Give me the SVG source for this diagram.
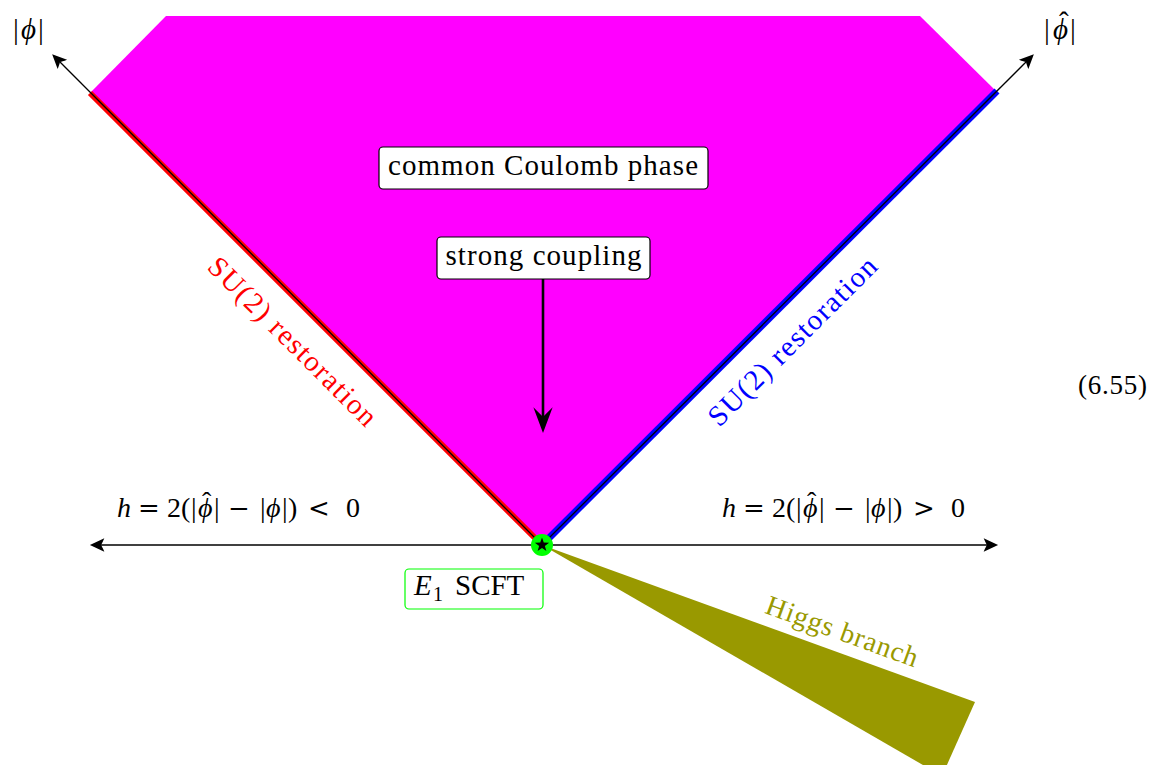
<svg xmlns="http://www.w3.org/2000/svg" width="1150" height="765" viewBox="0 0 1150 765">
<style>
  text { font-family: "Liberation Serif", "DejaVu Serif", serif; fill: #000; }
  .lbl { font-size: 29px; }
  .math { font-size: 28px; }
  .it { font-style: italic; }
  .op { font-family: "DejaVu Serif", serif; font-size: 26px; }
  .box { fill: #fff; stroke: #000; stroke-width: 1.2; }
  .axis { stroke: #000; stroke-width: 1.3; fill: none; }
</style>
<defs>
  <marker id="ah" markerUnits="userSpaceOnUse" markerWidth="20" markerHeight="20" refX="0" refY="0" viewBox="-5 -8 18 16" orient="auto-start-reverse">
    <path d="M10,0 L-3,-6 Q-1,-1.5 0,0 Q-1,1.5 -3,6 Z" fill="#000"/>
  </marker>
  <marker id="ahBig" markerUnits="userSpaceOnUse" markerWidth="30" markerHeight="24" refX="0" refY="0" viewBox="-10 -11 28 22" orient="auto">
    <path d="M15,0 L-9,-9 Q-2,-2 0,0 Q-2,2 -9,9 Z" fill="#000"/>
  </marker>
</defs>

<g id="coulomb-region">
  <polygon points="542,545 90,93 166,16 920,16 997,92" fill="#ff00ff"/>
</g>

<g id="higgs-branch">
  <polygon points="542,545 975,702 942,776" fill="#999900"/>
  <text transform="translate(839,640) rotate(20)" text-anchor="middle" textLength="160" lengthAdjust="spacing" style="fill:#999900;font-size:28px">Higgs branch</text>
</g>

<g id="connectors">
  <line x1="542" y1="545" x2="90" y2="93" stroke="#ff0000" stroke-width="6"/>
  <line x1="542" y1="545" x2="997" y2="91" stroke="#0000ff" stroke-width="7"/>
  <line class="axis" x1="542" y1="545" x2="60" y2="62" marker-end="url(#ah)"/>
  <line class="axis" x1="542" y1="545" x2="1026" y2="62" marker-end="url(#ah)"/>
  <line class="axis" x1="101" y1="545" x2="987" y2="545" marker-start="url(#ah)" marker-end="url(#ah)"/>
  <line x1="543" y1="279" x2="543" y2="417" stroke="#000" stroke-width="2.6" marker-end="url(#ahBig)"/>
</g>

<g id="axis-labels">
  <text class="lbl" y="39"><tspan x="13">|</tspan><tspan class="it" x="21">ϕ</tspan><tspan x="38">|</tspan></text>
  <text class="lbl" y="39"><tspan x="1044">|</tspan><tspan class="it" x="1053">ϕ<tspan x="1059" y="32" font-style="normal">ˆ</tspan></tspan><tspan x="1070" y="39">|</tspan></text>
  <text class="math" y="517"><tspan class="it" x="117">h</tspan><tspan class="op" x="138">=</tspan><tspan x="167">2</tspan><tspan x="181">(</tspan><tspan x="191">|</tspan><tspan class="it" x="198">ϕ<tspan x="202" y="511" font-style="normal">ˆ</tspan></tspan><tspan x="214" y="517">|</tspan><tspan class="op" x="228">−</tspan><tspan x="260">|</tspan><tspan class="it" x="266">ϕ</tspan><tspan x="282">|</tspan><tspan x="288">)</tspan><tspan class="op" x="308" font-size="28">&lt;</tspan><tspan x="346">0</tspan></text>
  <text class="math" y="517"><tspan class="it" x="722">h</tspan><tspan class="op" x="743">=</tspan><tspan x="772">2</tspan><tspan x="786">(</tspan><tspan x="796">|</tspan><tspan class="it" x="803">ϕ<tspan x="807" y="511" font-style="normal">ˆ</tspan></tspan><tspan x="819" y="517">|</tspan><tspan class="op" x="833">−</tspan><tspan x="865">|</tspan><tspan class="it" x="871">ϕ</tspan><tspan x="887">|</tspan><tspan x="893">)</tspan><tspan class="op" x="913" font-size="28">&gt;</tspan><tspan x="951">0</tspan></text>
</g>

<g id="su2-left">
  <text class="lbl" transform="translate(293,341) rotate(45)" x="0" y="10" text-anchor="middle" textLength="226" lengthAdjust="spacing" style="fill:#ff0000">SU(2) restoration</text>
</g>
<g id="su2-right">
  <text class="lbl" transform="translate(792,341) rotate(-45)" x="0" y="10" text-anchor="middle" textLength="226" lengthAdjust="spacing" style="fill:#0000ff">SU(2) restoration</text>
</g>

<g id="common-coulomb-phase">
  <rect class="box" x="379" y="147" width="329" height="42" rx="4"/>
  <text class="lbl" x="543" y="175" text-anchor="middle" textLength="310" lengthAdjust="spacing">common Coulomb phase</text>
</g>

<g id="strong-coupling">
  <rect class="box" x="437" y="237" width="213" height="42" rx="4"/>
  <text class="lbl" x="543.5" y="265" text-anchor="middle" textLength="196" lengthAdjust="spacing">strong coupling</text>
</g>

<g id="e1-scft">
  <rect x="405" y="569" width="138" height="40" rx="4" fill="#fff" stroke="#00ff00" stroke-width="1.2"/>
  <text class="lbl" y="595"><tspan class="it" x="414">E</tspan><tspan x="433" y="601" font-size="20">1</tspan><tspan x="455" y="595">SCFT</tspan></text>
</g>

<g id="origin-point">
  <circle cx="542" cy="545" r="11" fill="#00ff00"/>
  <polygon transform="translate(542,545)" fill="#000" points="0,-7.5 1.76,-2.43 7.13,-2.32 2.85,0.93 4.41,6.07 0,3 -4.41,6.07 -2.85,0.93 -7.13,-2.32 -1.76,-2.43"/>
</g>

<g id="equation-number">
  <text x="1078" y="394" textLength="69" lengthAdjust="spacing" style="font-size:27px">(6.55)</text>
</g>
</svg>
